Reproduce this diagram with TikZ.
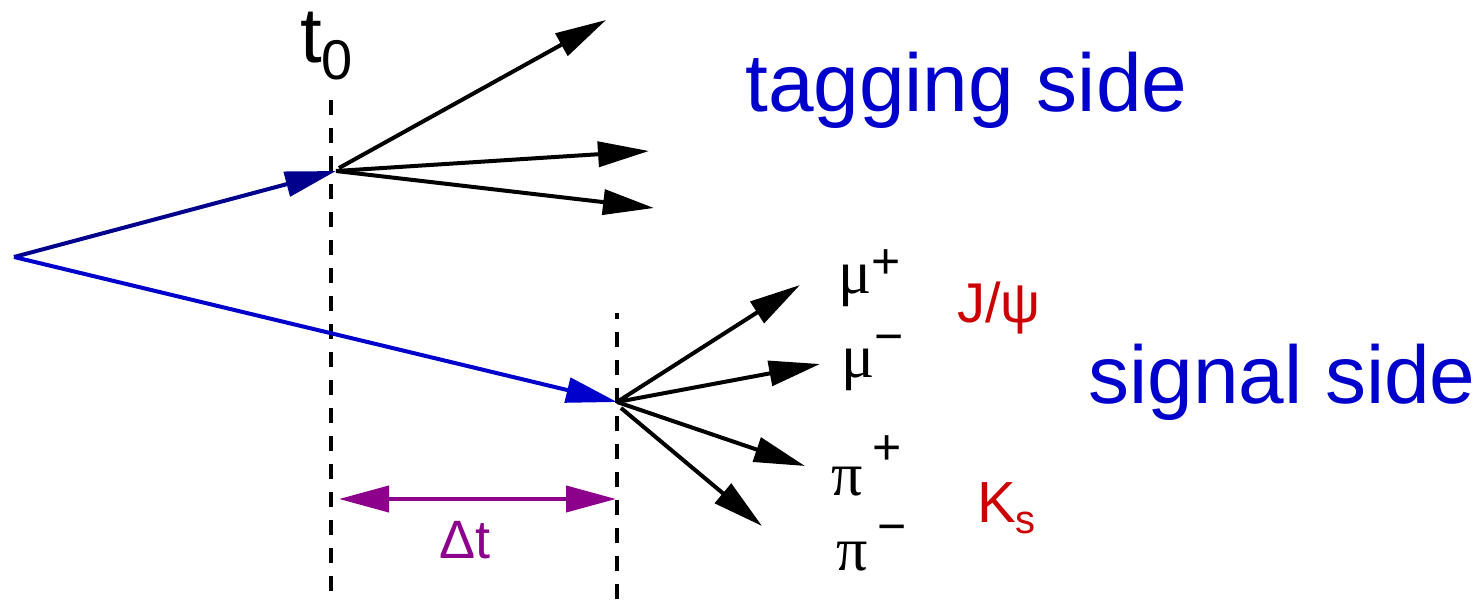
\documentclass[tikz,border=0pt]{standalone}
\usepackage{fontspec}
\setmainfont{Liberation Sans}
\newfontfamily\grk{Liberation Serif}
\usetikzlibrary{arrows.meta}
\definecolor{navyb}{RGB}{0,0,140}
\definecolor{sigblue}{RGB}{0,0,204}
\definecolor{redk}{RGB}{204,0,0}
\definecolor{purp}{RGB}{140,0,140}
\tikzset{
  trk/.style={line width=4pt, line join=miter},
  tipped/.style={trk, -{Triangle[length=51pt,width=25pt]}},
  bothtips/.style={trk, {Triangle[length=50pt,width=26pt]}-{Triangle[length=50pt,width=26pt]}},
  timeline/.style={line width=3.5pt, dash pattern=on 15pt off 13pt},
  lbl/.style={inner sep=0pt, anchor=base west},
}
\newcommand{\fs}[1]{\fontsize{#1}{#1}\selectfont}
\begin{document}
\begin{tikzpicture}[x=1pt,y=-1pt]
\useasboundingbox (0,0) rectangle (1481,604);
% vertices
\coordinate (O) at (14,257);
\coordinate (T) at (336,171);
\coordinate (S) at (617,402);
% dashed time lines
\coordinate (d0a) at (331,100);
\coordinate (d0b) at (331,604);
\coordinate (d1a) at (617,313);
\coordinate (d1b) at (617,604);
\draw[timeline] (d0a) -- (d0b);
\draw[timeline, dash phase=9pt] (d1a) -- (d1b);
% B mesons
\draw[tipped, navyb] (O) -- (T);
\draw[tipped, sigblue] (O) -- (S);
% tagging side tracks
\coordinate (t1) at (606,20);
\coordinate (t2) at (649,151);
\coordinate (t3) at (654,208);
\coordinate (T1) at (339,168);
\draw[tipped] (T1) -- (t1);
\draw[tipped] (T) -- (t2);
\draw[tipped] (T) -- (t3);
% signal side tracks
\coordinate (s1) at (800,285);
\coordinate (s2) at (820,364);
\coordinate (s3) at (805,466);
\coordinate (s4) at (762,526);
\coordinate (S4) at (621,408);
\draw[tipped] (S) -- (s1);
\draw[tipped] (S) -- (s2);
\draw[tipped] (S) -- (s3);
\draw[tipped] (S4) -- (s4);
% delta t
\coordinate (dtl) at (339,499);
\coordinate (dtr) at (616,499);
\draw[bothtips, purp] (dtl) -- (dtr);
% labels
\node[lbl] (lt0) at (300,63) {\fs{78}t\raisebox{-17pt}{\fs{56}0}};
\node[lbl, text=sigblue] (ltag) at (745,112) {\fs{82}tagging side};
\node[lbl, text=sigblue] (lsig) at (1088,403) {\fs{82}signal side};
\node[lbl, text=redk] (ljpsi) at (957,322) {\fs{56}J/ψ};
\node[lbl, text=redk] (lks) at (977,522) {\fs{58}K\raisebox{-11pt}{\fs{40}s}};
\node[lbl] (lmup) at (838,293) {{\grk\fs{62}μ}\raisebox{14pt}{\fs{50}+}};
\node[lbl] (lmum) at (841,377) {{\grk\fs{62}μ}\raisebox{24pt}{\fs{50}−}};
\node[lbl] (lpip) at (831,495) {{\grk\fs{62}π}\hspace{10pt}\raisebox{31pt}{\fs{50}+}};
\node[lbl] (lpim) at (836,570) {{\grk\fs{62}π}\hspace{10pt}\raisebox{27pt}{\fs{50}−}};
\node[lbl, text=purp] (ldt) at (439,558) {\fs{54}Δt};
\end{tikzpicture}
\end{document}
